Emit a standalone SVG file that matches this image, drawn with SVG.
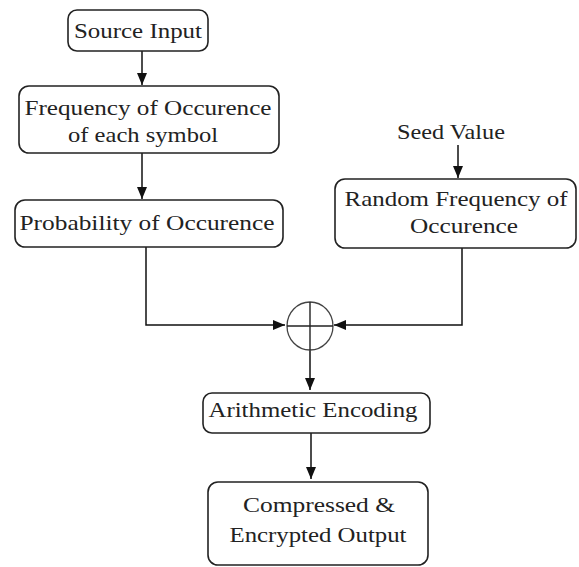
<svg xmlns="http://www.w3.org/2000/svg" width="579" height="567" viewBox="0 0 579 567">
<style>
.box{fill:#fff;stroke:#222;stroke-width:1.6}
.t{font-family:"Liberation Serif","Times New Roman",serif;font-size:22px;fill:#222;text-anchor:middle}
.ln{fill:none;stroke:#111;stroke-width:1.5}
</style>
<defs>
<marker id="ah" viewBox="0 0 12 10" refX="12" refY="5" markerWidth="12" markerHeight="10" markerUnits="userSpaceOnUse" orient="auto">
<path d="M0,0 L12,5 L0,10 Z" fill="#111"/>
</marker>
</defs>
<rect width="579" height="567" fill="#fff"/>
<g id="connectors">
<line class="ln" x1="142" y1="51" x2="142" y2="85" marker-end="url(#ah)"/>
<line class="ln" x1="142" y1="153" x2="142" y2="199" marker-end="url(#ah)"/>
<polyline class="ln" points="146,247 146,325 285,325" marker-end="url(#ah)"/>
<line class="ln" x1="458" y1="145" x2="458" y2="178" marker-end="url(#ah)"/>
<polyline class="ln" points="462,248 462,325 334,325" marker-end="url(#ah)"/>
<line class="ln" x1="310" y1="350" x2="310" y2="390" marker-end="url(#ah)"/>
<line class="ln" x1="311" y1="433" x2="311" y2="479" marker-end="url(#ah)"/>
</g>
<g id="xor">
<ellipse cx="310" cy="326" rx="23" ry="24" fill="#fff" stroke="#444" stroke-width="1.3"/>
<line x1="310" y1="302" x2="310" y2="350" stroke="#222" stroke-width="1.4"/>
<line x1="287" y1="326" x2="333" y2="326" stroke="#222" stroke-width="1.4"/>
</g>
<g id="source">
<rect class="box" x="68" y="10" width="140" height="41" rx="9"/>
<text class="t" x="138" y="38" textLength="128" lengthAdjust="spacingAndGlyphs">Source Input</text>
</g>
<g id="frequency">
<rect class="box" x="19" y="86" width="260" height="67" rx="10"/>
<text class="t" x="148" y="115" textLength="247" lengthAdjust="spacingAndGlyphs">Frequency of Occurence</text>
<text class="t" x="143" y="142" textLength="150" lengthAdjust="spacingAndGlyphs">of each symbol</text>
</g>
<g id="probability">
<rect class="box" x="15" y="200" width="268" height="47" rx="10"/>
<text class="t" x="147" y="230" textLength="255" lengthAdjust="spacingAndGlyphs">Probability of Occurence</text>
</g>
<g id="seed">
<text class="t" x="451" y="139" textLength="108" lengthAdjust="spacingAndGlyphs">Seed Value</text>
</g>
<g id="random">
<rect class="box" x="335" y="179" width="241" height="69" rx="10"/>
<text class="t" x="456" y="206" textLength="223" lengthAdjust="spacingAndGlyphs">Random Frequency of</text>
<text class="t" x="464" y="233" textLength="108" lengthAdjust="spacingAndGlyphs">Occurence</text>
</g>
<g id="arithmetic">
<rect class="box" x="203" y="393" width="227" height="40" rx="9"/>
<text class="t" x="313" y="417" textLength="209" lengthAdjust="spacingAndGlyphs">Arithmetic Encoding</text>
</g>
<g id="output">
<rect class="box" x="208" y="482" width="220" height="83" rx="10"/>
<text class="t" x="319" y="512" textLength="152" lengthAdjust="spacingAndGlyphs">Compressed &amp;</text>
<text class="t" x="318" y="542" textLength="177" lengthAdjust="spacingAndGlyphs">Encrypted Output</text>
</g>
</svg>
